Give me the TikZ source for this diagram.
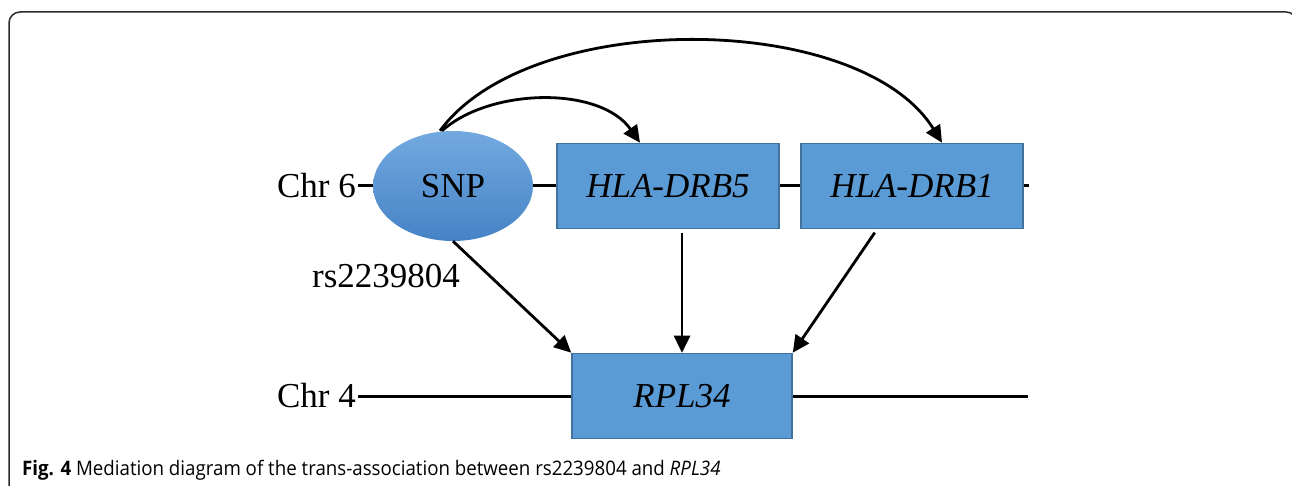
\documentclass[tikz,border=0pt]{standalone}
\usepackage{fontspec}
\setmainfont{Liberation Serif}
\newfontfamily\capfont[FakeStretch=0.935]{Open Sans}
\usetikzlibrary{arrows.meta,calc,shapes.geometric}
\definecolor{boxfill}{HTML}{5B9BD5}
\definecolor{boxline}{HTML}{41719C}
\definecolor{elltop}{HTML}{72A9DF}
\definecolor{ellbot}{HTML}{4683C6}
\definecolor{framecol}{HTML}{2B2B2B}
\tikzset{
  genebox/.style={draw=boxline, line width=1.6pt, fill=boxfill, minimum width=222pt, minimum height=85pt, inner sep=0pt, font=\fontsize{35}{40}\selectfont\itshape},
  snpnode/.style={ellipse, top color=elltop, bottom color=ellbot, minimum width=160pt, minimum height=110pt, inner sep=0pt, font=\fontsize{35}{40}\selectfont},
  lbl/.style={inner sep=2pt, font=\fontsize{35}{40}\selectfont},
  chrline/.style={line width=3pt},
  arr/.style={line width=2.8pt, -{Triangle[length=17pt,width=16pt]}},
}
\begin{document}
\begin{tikzpicture}[x=1pt,y=-1pt]
\clip (0,0) rectangle (1292,486);
\fill[white] (0,0) rectangle (1292,486);
% frame
\draw[framecol, line width=1.5pt, rounded corners=11pt] (9,520) -- (9,12) -- (1297,12) -- (1297,520);
% nodes
\node[snpnode] (snp) at (453,186) {SNP};
\node[genebox] (hla5) at (668,186) {HLA-DRB5};
\node[genebox] (hla1) at (912,186) {HLA-DRB1};
\node[genebox, minimum width=220pt] (rpl) at (682,396) {RPL34};
\node[lbl, anchor=east] (chr6) at (358,186) {Chr 6};
\node[lbl, anchor=east] (chr4) at (358,396) {Chr 4};
\node[lbl] (rs) at (386,276) {rs2239804};
\coordinate (e6) at (1029,186);
\coordinate (e4) at (1028,396);
% chromosome lines
\draw[chrline] (chr6.east) -- (snp.west);
\draw[chrline] (snp.east) -- (hla5.west);
\draw[chrline] (hla5.east) -- (hla1.west);
\draw[chrline] (hla1.east) -- (e6);
\draw[chrline] (chr4.east) -- (rpl.west);
\draw[chrline] (rpl.east) -- (e4);
% arrows
\draw[arr] (snp.south) -- (rpl.north west);
\draw[arr, shorten <=4pt] (hla5.south -| rpl.north) -- (rpl.north);
\draw[arr, shorten <=4pt] ([xshift=-35pt]hla1.south) -- (rpl.north east);
\draw[arr] ([xshift=-11pt]snp.north) .. controls +(48,-43) and +(-40,-57) .. ([xshift=-28pt]hla5.north);
\draw[arr] ([xshift=-13pt]snp.north) .. controls +(90,-123) and +(-82,-132) .. ([xshift=30pt]hla1.north);
% caption
\node[anchor=base west, inner sep=0pt, font=\capfont\fontsize{20}{24}\selectfont] (cap) at (22,475) {\textbf{Fig. 4} Mediation diagram of the trans-association between rs2239804 and \textit{RPL34}};
\end{tikzpicture}
\end{document}
